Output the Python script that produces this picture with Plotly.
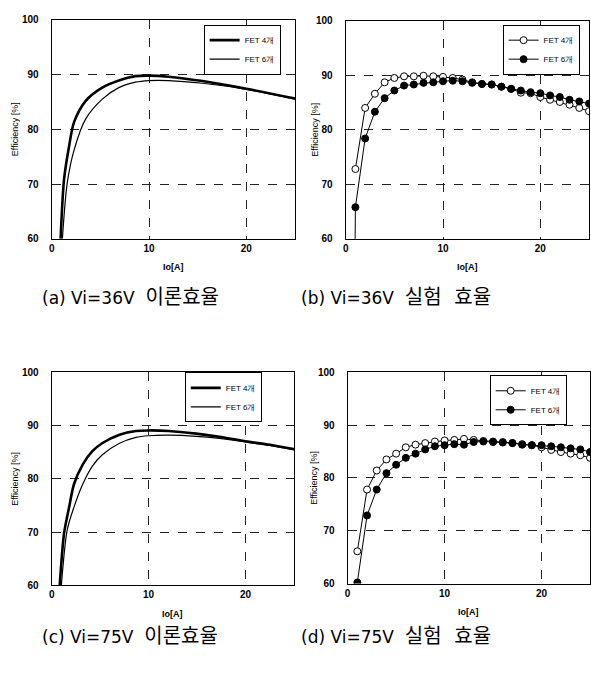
import plotly.graph_objects as go

# ---- data ----
# (a) Vi=36V theoretical (smooth curves)
a_x4 = [0.92, 1.27, 1.78, 2.3, 3.5, 5.2, 6.9, 8.6, 10, 12, 15.5, 20, 25]
a_y4 = [60, 70.8, 76.8, 81.3, 85.2, 87.6, 88.9, 89.7, 89.8, 89.6, 88.8, 87.4, 85.6]
a_x6 = [1.1, 1.6, 2.3, 3.5, 5.2, 6.9, 8.6, 10, 12, 15.5, 20, 25]
a_y6 = [60, 70.2, 76.2, 81.9, 85.5, 87.6, 88.6, 88.9, 88.9, 88.4, 87.3, 85.5]

# (b) Vi=36V measured
b_x = list(range(1, 26))
b_y4 = [72.8, 84.0, 86.6, 88.7, 89.5, 89.8, 89.8, 89.9, 89.8, 89.7, 89.5, 89.2, 88.7,
        88.4, 88.3, 87.9, 87.5, 86.8, 86.7, 86.0, 85.5, 85.1, 84.6, 84.0, 83.4]
b_x6 = [0.95] + list(range(1, 26))
b_y6 = [55.0, 65.8, 78.4, 83.3, 85.8, 87.2, 88.1, 88.3, 88.6, 88.7, 88.9, 89.0, 88.9, 88.6,
        88.4, 88.3, 87.9, 87.5, 87.2, 86.9, 86.7, 86.3, 86.0, 85.5, 85.2, 84.8]

# (c) Vi=75V theoretical
c_x4 = [0.83, 1.28, 1.8, 2.3, 3.2, 4.2, 5.2, 7.0, 8.7, 10, 12.1, 14.9, 17.3, 20.2, 22.5, 25.2]
c_y4 = [60, 69.8, 74.7, 79.0, 82.7, 85.2, 86.7, 88.3, 89.0, 89.1, 89.0, 88.5, 87.9, 87.0, 86.4, 85.5]
c_x6 = [1.0, 1.6, 2.3, 3.2, 4.2, 5.2, 7.0, 8.7, 10, 12.1, 14.9, 17.3, 20.2, 22.5, 25.2]
c_y6 = [60, 70.4, 74.7, 79.0, 82.4, 84.5, 86.7, 87.8, 88.1, 88.2, 88.0, 87.6, 86.9, 86.3, 85.4]

# (d) Vi=75V measured
d_x = list(range(1, 26))
d_y4 = [66.1, 77.8, 81.4, 83.5, 84.6, 85.8, 86.3, 86.6, 86.9, 87.1, 87.2, 87.4, 87.2,
        87.0, 86.9, 86.8, 86.6, 86.4, 86.2, 85.8, 85.3, 84.9, 84.6, 84.3, 83.8]
d_y6 = [60.2, 72.9, 77.8, 80.9, 82.5, 83.8, 84.6, 85.4, 86.0, 86.2, 86.4, 86.3, 86.8,
        86.9, 86.8, 86.7, 86.6, 86.3, 86.2, 86.2, 86.0, 85.8, 85.6, 85.4, 84.9]

series_names = ["FET 4개", "FET 6개"]
cap_labels = ["(a) Vi=36V", "(b) Vi=36V", "(c) Vi=75V", "(d) Vi=75V"]
cap_korean = ["이론효율", "실험\u00a0 효율", "이론효율", "실험\u00a0 효율"]
x_ticks = [0, 10, 20]
y_ticks = [60, 70, 80, 90, 100]
x_title = "Io[A]"
y_title = "Efficiency [%]"

W, H = 591, 673
def px(v): return v / W
def py(v): return 1 - v / H

fig = go.Figure()

# panel geometry (pixel)
panels = [
    dict(x0=49, x1=294, y0=14, y1=237),
    dict(x0=345, x1=590, y0=15, y1=237),
    dict(x0=49, x1=293, y0=373, y1=590),
    dict(x0=347, x1=591, y0=373, y1=588),
]
legend_pos = [(202, 19), (503, 19), (183, 373), (490, 376)]
ytitle_x = [12, 314, 12, 313]
legend_names = ["legend", "legend2", "legend3", "legend4"]

# theoretical panels
for i, (x4, y4, x6, y6) in [(0, (a_x4, a_y4, a_x6, a_y6)), (2, (c_x4, c_y4, c_x6, c_y6))]:
    xa = "x" if i == 0 else f"x{i+1}"
    ya = "y" if i == 0 else f"y{i+1}"
    fig.add_trace(go.Scatter(x=x4, y=y4, mode="lines", name=series_names[0],
                             line=dict(color="black", width=2.6, shape="spline", smoothing=0.8),
                             xaxis=xa, yaxis=ya, legend=legend_names[i]))
    fig.add_trace(go.Scatter(x=x6, y=y6, mode="lines", name=series_names[1],
                             line=dict(color="black", width=1.2, shape="spline", smoothing=0.8),
                             xaxis=xa, yaxis=ya, legend=legend_names[i]))

# measured panels
for i, (x4, y4, x6, y6) in [(1, (b_x, b_y4, b_x6, b_y6)), (3, (d_x, d_y4, d_x, d_y6))]:
    xa = f"x{i+1}"
    ya = f"y{i+1}"
    fig.add_trace(go.Scatter(x=x4, y=y4, mode="lines+markers", name=series_names[0],
                             line=dict(color="black", width=1),
                             marker=dict(symbol="circle", size=7, color="white",
                                         line=dict(color="black", width=1)),
                             xaxis=xa, yaxis=ya, legend=legend_names[i], cliponaxis=True))
    fig.add_trace(go.Scatter(x=x6, y=y6, mode="lines+markers", name=series_names[1],
                             line=dict(color="black", width=1),
                             marker=dict(symbol="circle", size=7, color="black",
                                         line=dict(color="black", width=1)),
                             xaxis=xa, yaxis=ya, legend=legend_names[i], cliponaxis=True))

tickfont = dict(family="Liberation Sans", size=10, color="black", weight="bold")
layout = dict(width=W, height=H, margin=dict(l=0, r=0, t=0, b=0),
              paper_bgcolor="white", plot_bgcolor="white", showlegend=True)

annotations = []
for i, p in enumerate(panels):
    xk = "xaxis" if i == 0 else f"xaxis{i+1}"
    yk = "yaxis" if i == 0 else f"yaxis{i+1}"
    xa = "x" if i == 0 else f"x{i+1}"
    ya = "y" if i == 0 else f"y{i+1}"
    layout[xk] = dict(domain=[px(p["x0"]), px(p["x1"])], range=[0, 25], anchor=ya,
                      tickvals=x_ticks, showgrid=True, gridcolor="#222", griddash="dash",
                      gridwidth=1, showline=True, linecolor="black", linewidth=1, mirror=True,
                      zeroline=False, ticks="", tickfont=tickfont)
    layout[yk] = dict(domain=[py(p["y1"]), py(p["y0"])], range=[60, 100], anchor=xa,
                      tickvals=y_ticks, showgrid=True, gridcolor="#222", griddash="dash",
                      gridwidth=1, showline=True, linecolor="black", linewidth=1, mirror=True,
                      zeroline=False, ticks="", tickfont=tickfont, ticklabelstandoff=10)
    lx, ly = legend_pos[i]
    layout[legend_names[i]] = dict(x=px(lx), y=py(ly), xanchor="left", yanchor="top",
                                   bgcolor="white", bordercolor="black", borderwidth=1,
                                   font=dict(family="Liberation Sans", size=8, color="black"),
                                   itemwidth=30, tracegroupgap=0)
    # axis titles
    annotations.append(dict(text=x_title, x=px((p["x0"] + p["x1"]) / 2),
                            y=py(p["y1"] + 29), xref="paper", yref="paper",
                            xanchor="center", yanchor="middle", showarrow=False,
                            font=dict(family="Liberation Sans", size=9, color="black", weight="bold")))
    annotations.append(dict(text=y_title, x=px(ytitle_x[i]), y=py((p["y0"] + p["y1"]) / 2),
                            xref="paper", yref="paper", textangle=-90, showarrow=False,
                            xanchor="center", yanchor="middle",
                            font=dict(family="Liberation Sans", size=9, color="black")))

cap_pos = [(128, 296), (396, 296), (128, 641), (396, 641)]
for (cx, cy), lab, kor in zip(cap_pos, cap_labels, cap_korean):
    t = f"{lab}\u00a0 <span style='font-size:20px'>{kor}</span>"
    annotations.append(dict(text=t, x=px(cx), y=py(cy), xref="paper", yref="paper",
                            xanchor="center", yanchor="middle", showarrow=False,
                            font=dict(family="DejaVu Sans, Noto Sans CJK KR", size=17, color="black")))
layout["annotations"] = annotations
fig.update_layout(**layout)
fig.write_html("out.html")
